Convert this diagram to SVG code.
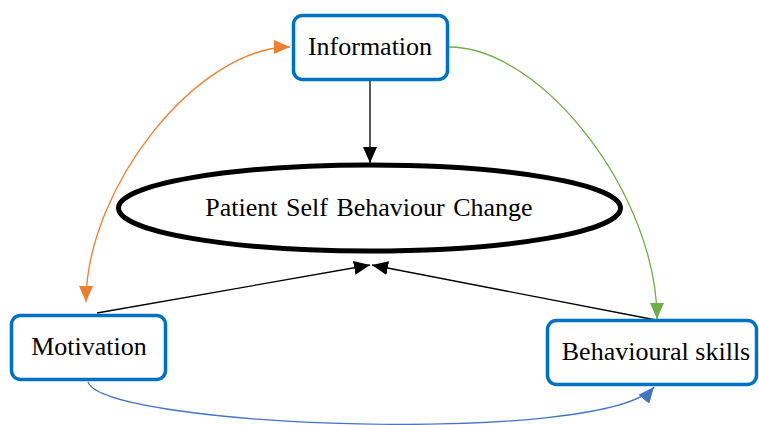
<svg xmlns="http://www.w3.org/2000/svg" width="759" height="425" viewBox="0 0 759 425">
  <style>
    .box { fill: #ffffff; stroke: #0070C0; stroke-width: 3.5; }
    .label { font-family: "Liberation Serif", "Times New Roman", serif; font-size: 26px; fill: #000000; text-anchor: middle; }
    .link { fill: none; stroke-width: 1.3; }
  </style>
  <defs>
    <marker id="headBlack" markerUnits="userSpaceOnUse" markerWidth="16" markerHeight="14" viewBox="0 0 16 14" refX="16" refY="7" orient="auto">
      <path d="M0 0 L16 7 L0 14 Z" fill="#000000"/>
    </marker>
    <marker id="headOrange" markerUnits="userSpaceOnUse" markerWidth="16" markerHeight="14" viewBox="0 0 16 14" refX="16" refY="7" orient="auto-start-reverse">
      <path d="M0 0 L16 7 L0 14 Z" fill="#ED7D31"/>
    </marker>
    <marker id="headGreen" markerUnits="userSpaceOnUse" markerWidth="16" markerHeight="14" viewBox="0 0 16 14" refX="16" refY="7" orient="auto">
      <path d="M0 0 L16 7 L0 14 Z" fill="#70AD47"/>
    </marker>
    <marker id="headBlue" markerUnits="userSpaceOnUse" markerWidth="16" markerHeight="14" viewBox="0 0 16 14" refX="16" refY="7" orient="auto">
      <path d="M0 0 L16 7 L0 14 Z" fill="#4472C4"/>
    </marker>
  </defs>

  <g id="connectors">
    <path class="link" stroke="#ED7D31" d="M86 302 C86 187, 198 47, 290 47" marker-start="url(#headOrange)" marker-end="url(#headOrange)"/>
    <path class="link" stroke="#70AD47" d="M449 47 C543 47, 657 196, 657 319" marker-end="url(#headGreen)"/>
    <path class="link" stroke="#000000" d="M370 81 L370 163" marker-end="url(#headBlack)"/>
    <path class="link" stroke="#000000" d="M97 313 L370 265" marker-end="url(#headBlack)"/>
    <path class="link" stroke="#000000" d="M656 320 L372 265" marker-end="url(#headBlack)"/>
    <path class="link" stroke="#4472C4" d="M88 382 C105 428, 605 446, 654 387" marker-end="url(#headBlue)"/>
  </g>

  <g id="information">
    <rect class="box" x="293.5" y="15.5" width="154" height="64" rx="9"/>
    <text class="label" x="370" y="55">Information</text>
  </g>

  <g id="behaviour-change">
    <ellipse cx="369.5" cy="208" rx="251" ry="43" fill="#ffffff" stroke="#000000" stroke-width="5"/>
    <text class="label" x="369" y="216" word-spacing="2">Patient Self Behaviour Change</text>
  </g>

  <g id="motivation">
    <rect class="box" x="11.5" y="315.5" width="154" height="64" rx="9"/>
    <text class="label" x="89" y="355">Motivation</text>
  </g>

  <g id="behavioural-skills">
    <rect class="box" x="547.5" y="320.5" width="209" height="64" rx="9"/>
    <text class="label" x="656" y="360">Behavioural skills</text>
  </g>
</svg>
